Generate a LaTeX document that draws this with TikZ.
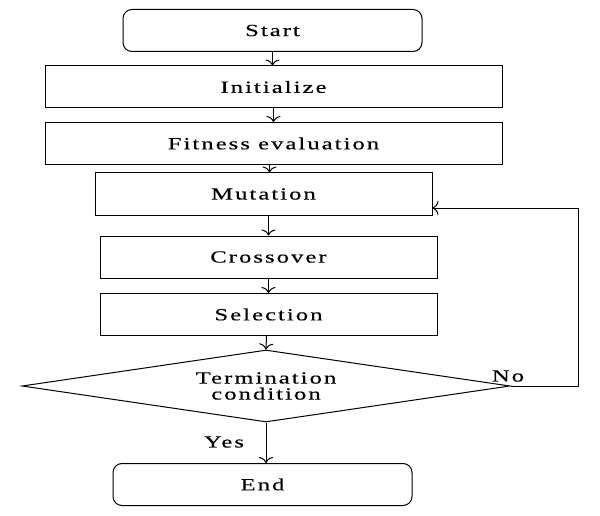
\documentclass[tikz,border=0pt]{standalone}
\usepackage{fontspec}
\setmainfont{Liberation Serif}[FakeStretch=1.45,LetterSpace=12,FakeBold=0.4]
\usetikzlibrary{shapes.geometric,arrows.meta,calc}
\begin{document}
\begin{tikzpicture}[x=1pt,y=-1pt,
  base/.style={draw,line width=1pt,inner sep=0pt,font=\fontsize{17}{18}\selectfont},
  box/.style={base,rectangle,minimum width=337pt,minimum height=42pt},
  wbox/.style={base,rectangle,minimum width=457pt,minimum height=42pt},
  term/.style={base,rectangle,rounded corners=9pt,minimum width=299pt,minimum height=42pt},
  dec/.style={base,diamond,aspect=6.78,minimum width=488pt,minimum height=72pt,align=center,font=\fontsize{17}{16}\selectfont},
  conn/.style={line width=1pt,-{To[length=6pt,width=14pt]}},
  lab/.style={font=\fontsize{17}{18}\selectfont}]
\useasboundingbox (0,0) rectangle (600,516);
\node[term] (start) at (272.5,30.5) {Start};
\node[wbox] (init) at (273.5,87) {Initialize};
\node[wbox] (fit) at (273.5,143.5) {Fitness evaluation};
\node[box] (mut) at (263.5,194) {Mutation};
\node[box] (cross) at (268.5,257) {Crossover};
\node[box] (sel) at (268.5,314.5) {Selection};
\node[dec] (cond) at (266,386) {Termination\\condition};
\node[term] (stop) at (262.5,484.5) {End};
\coordinate (corner) at (578,386);
\coordinate (cornerT) at (578,208);
\draw[conn] (start.south) -- (start.south |- init.north);
\draw[conn] (init.south) -- (init.south |- fit.north);
\draw[conn] ($(fit.south)+(-4,0)$) -- ($(fit.south |- mut.north)+(-4,0)$);
\draw[conn] (cross.north |- mut.south) -- (cross.north);
\draw[conn] (cross.south) -- (sel.north);
\draw[conn] ($(sel.south)+(-2,0)$) -- (cond.north);
\draw[conn] (cond.south) -- (cond.south |- stop.north);
\draw[line width=1pt] (cond.east) -- (corner) -- (cornerT);
\draw[conn] (cornerT) -- (cornerT -| mut.east);
\node[lab] (no) at (508,376) {No};
\node[lab] (yes) at (224,442) {Yes};
\end{tikzpicture}
\end{document}
